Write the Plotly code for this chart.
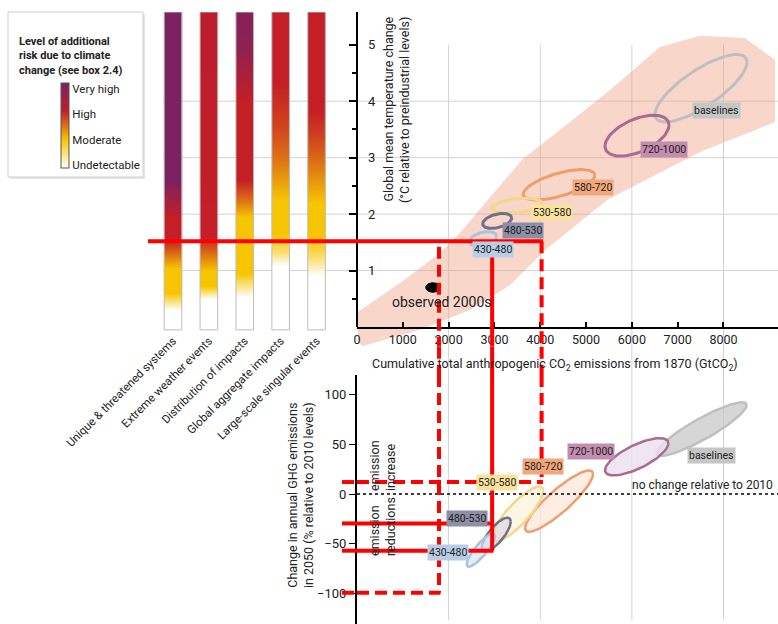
import numpy as np
import plotly.graph_objects as go

W, H = 778, 624
FONT = "Roboto, sans-serif"
TXT = "#222222"
RED = "#FF0000"

# ---------------- data ----------------
# Risk bars: temperature nodes (°C) and risk level (0 undetectable .. 3 very high)
risk_categories = ["Unique & threatened systems", "Extreme weather events",
                   "Distribution of impacts", "Global aggregate impacts",
                   "Large-scale singular events"]
risk_temps = [
    [-0.05, -0.03, 0.3, 0.6, 1.05, 1.3, 1.55, 1.95, 2.6, 5.56, 5.58],
    [-0.05, -0.03, 0.5, 0.72, 1.0, 1.3, 1.6, 2.0, 3.5, 5.56, 5.58],
    [-0.05, -0.03, 0.53, 0.95, 1.95, 2.25, 2.6, 4.0, 5.0, 5.56, 5.58],
    [-0.05, -0.03, 1.08, 1.35, 1.67, 2.25, 3.0, 3.5, 4.3, 5.56, 5.58],
    [-0.05, -0.03, 0.9, 1.25, 1.6, 2.2, 2.9, 3.4, 3.85, 5.56, 5.58],
]
risk_levels = [
    [0, 0, 0, 1.0, 1.0, 1.5, 2.0, 2.0, 3.0, 3.0, 3.0],
    [0, 0, 0, 1.0, 1.0, 1.5, 2.0, 2.0, 2.05, 2.1, 2.1],
    [0, 0, 0, 1.0, 1.0, 1.5, 2.0, 2.0, 2.75, 2.85, 2.85],
    [0, 0, 0, 0.6, 1.0, 1.0, 1.5, 1.75, 2.0, 2.0, 2.0],
    [0, 0, 0, 0.6, 1.0, 1.0, 1.5, 1.8, 2.0, 2.0, 2.0],
]
risk_tick_vals = [0.12, 1.0, 1.9, 2.78]
risk_tick_text = ["Undetectable", "Moderate", "High", "Very high"]

# Plume (cumulative CO2 GtCO2, warming °C)
plume_x = [22, 939, 1812, 2249, 2903, 3624, 4431, 5523, 6614, 7488, 8470, 9125,
           9125, 7488, 5458, 4104, 3340, 2467, 1375, 109, 22]
plume_y = [0.27, 0.78, 1.31, 1.67, 2.30, 2.98, 3.49, 4.20, 4.96, 5.16, 5.12, 4.73,
           3.63, 3.10, 2.25, 1.36, 0.74, 0.30, -0.05, -0.34, -0.23]

# Scenario categories
scen_names = ["baselines", "720-1000", "580-720", "530-580", "480-530", "430-480"]
scen_line = ["#BFBFBF", "#A96B92", "#EE9E6C", "#F5D78A", "#6F6F88", "#A9C2DF"]
scen_label_bg = ["#C6C6C6", "#C38DB0", "#F2A77A", "#FBE29B", "#8E8EA6", "#B9CDE6"]
scen_fill = ["rgba(200,200,200,0.75)", "rgba(236,224,238,0.8)", "rgba(252,230,214,0.7)",
             "rgba(254,242,218,0.7)", "rgba(214,214,224,0.6)", "rgba(218,228,242,0.7)"]

# Top panel ellipses: centre CO2, centre warming, half-width CO2, half-height warming, tilt
top_cx = [7510, 6112, 4410, 3487, 3060, 2751]
top_cy = [4.23, 3.39, 2.52, 2.15, 1.88, 1.56]
top_rx = [1004, 699, 782, 546, 317, 299]
top_ry = [0.38, 0.31, 0.21, 0.125, 0.122, 0.12]
top_slope = [0.00046, 0.000266, 0.000214, 0.00008, 0.00016, 0.00016]
top_lab_x = [7837, 6691, 5152, 4257, 3631, 2976]
top_lab_y = [3.83, 3.14, 2.47, 2.02, 1.71, 1.37]

# Bottom panel ellipses: centre CO2, centre emission change %, half-width, half-height, tilt
bot_cx = [7525, 6106, 4410, 3504, 3039, 2703]
bot_cy = [65.5, 37.6, -7.1, -20.2, -41.0, -56.5]
bot_rx = [982, 692, 742, 564, 317, 309]
bot_ry = [12, 13, 14.6, 14.9, 11, 8.8]
bot_slope = [0.0246, 0.0195, 0.0367, 0.0416, 0.0416, 0.046]
bot_lab_x = [7735, 5108, 4050, 3056, 2401, 1976]
bot_lab_y = [39.3, 43.3, 28.2, 12.1, -24.2, -58.5]

observed = dict(x=1659, y=0.70, rx=160, ry=0.085, lab_x=1856, lab_y=0.44)

# Guide lines (1.5 °C reading)
guide_temp = 1.52
guide_v = [  # (CO2, start warming, end emission change, dash)
    (1790, 1.42, -99.5, "12px,6px"),
    (2950, 1.52, -57.1, "solid"),
    (4030, 1.52, 12.1, "12px,6px"),
]
guide_h = [  # (emission change, CO2 end, dash)
    (12.1, 4030, "12px,6px"),
    (-29.6, 2950, "solid"),
    (-57.1, 2950, "solid"),
    (-99.5, 1790, "12px,6px"),
]

x_ticks = [0, 1000, 2000, 3000, 4000, 5000, 6000, 7000, 8000]
x_grid = [2000, 4000, 6000, 8000]
temp_ticks = [1, 2, 3, 4, 5]
temp_minor = [0.5, 1.5, 2.5, 3.5, 4.5]
temp_grid = [1, 2, 3, 4]
emis_ticks = [-100, -50, 0, 50, 100]

# ---------------- geometry ----------------
XD0 = 357 / W
X_RANGE = [0, 9190]
Y_RANGE = [-0.35, 5.58]
Y_DOM = [1 - 346.8 / H, 1 - 12 / H]
Y3_RANGE = [-131, 120]
Y3_DOM = [0, 1 - 375 / H]

risk_scale = [[0, "#FFFFFF"], [1 / 3, "#F6C500"], [2 / 3, "#C41E26"], [1, "#7A2262"]]

t = np.linspace(0, 2 * np.pi, 91)


def ellipse(cx, cy, rx, ry, slope):
    ex = cx + rx * np.cos(t)
    ey = cy + ry * np.sin(t) + slope * rx * np.cos(t)
    return ex, ey


fig = go.Figure()

# plume
fig.add_trace(go.Scatter(x=plume_x, y=plume_y, fill="toself", mode="lines",
                         fillcolor="rgba(240,165,135,0.45)", line=dict(width=0),
                         xaxis="x", yaxis="y", hoverinfo="skip"))

# risk bars as smooth heatmaps
half = 0.245
for i, (tt, lv) in enumerate(zip(risk_temps, risk_levels)):
    fig.add_trace(go.Heatmap(
        x=[i - half, i, i + half], y=tt, z=[[v, v] for v in lv],
        zsmooth="best", colorscale=risk_scale, zmin=0, zmax=3,
        xaxis="x2", yaxis="y", hoverinfo="skip", showscale=(i == 0),
        colorbar=dict(x=61 / W, xanchor="left", y=1 - 125.5 / H, yanchor="middle",
                      len=85 / H, lenmode="fraction", thickness=8, thicknessmode="pixels",
                      outlinewidth=1, outlinecolor="#555555", tickvals=risk_tick_vals,
                      ticktext=risk_tick_text, ticks="", xpad=0, ypad=0,
                      tickfont=dict(size=11.5, color=TXT, family=FONT))))
fig.add_trace(go.Bar(x=list(range(len(risk_categories))), y=[Y_RANGE[1] + 0.05] * 5,
                     base=-0.05, width=2 * half, xaxis="x2", yaxis="y",
                     marker=dict(color="rgba(0,0,0,0)", line=dict(color="#BDBDBD", width=1)),
                     hoverinfo="skip"))

# top ellipses
for k in range(len(scen_names)):
    ex, ey = ellipse(top_cx[k], top_cy[k], top_rx[k], top_ry[k], top_slope[k])
    fig.add_trace(go.Scatter(x=ex, y=ey, mode="lines", line=dict(color=scen_line[k], width=3),
                             xaxis="x", yaxis="y", hoverinfo="skip"))
ex, ey = ellipse(observed["x"], observed["y"], observed["rx"], observed["ry"], 0)
fig.add_trace(go.Scatter(x=ex, y=ey, mode="lines", fill="toself", fillcolor="black",
                         line=dict(color="black", width=1), xaxis="x", yaxis="y", hoverinfo="skip"))

# bottom ellipses
for k in range(len(scen_names)):
    ex, ey = ellipse(bot_cx[k], bot_cy[k], bot_rx[k], bot_ry[k], bot_slope[k])
    fig.add_trace(go.Scatter(x=ex, y=ey, mode="lines", fill="toself", fillcolor=scen_fill[k],
                             line=dict(color=scen_line[k], width=2.5),
                             xaxis="x3", yaxis="y3", hoverinfo="skip"))

shapes = []
# legend box
shapes.append(dict(type="rect", xref="paper", yref="paper", x0=10 / W, x1=145 / W,
                   y0=1 - 179 / H, y1=1 - 14 / H, fillcolor="#E4E4E4", line=dict(width=0),
                   layer="below"))
shapes.append(dict(type="rect", xref="paper", yref="paper", x0=8 / W, x1=143 / W,
                   y0=1 - 177 / H, y1=1 - 12 / H, fillcolor="white",
                   line=dict(color="#CFCFCF", width=1), layer="below"))
# grid
for g in temp_grid:
    shapes.append(dict(type="line", xref="paper", yref="y", x0=163 / W, x1=1, y0=g, y1=g,
                       line=dict(color="#D2D2D2", width=1), layer="below"))
for g in x_grid:
    shapes.append(dict(type="line", xref="x", yref="y", x0=g, x1=g, y0=5, y1=Y_RANGE[0],
                       line=dict(color="#D2D2D2", width=1), layer="below"))
    shapes.append(dict(type="line", xref="x", yref="paper", x0=g, x1=g, y0=Y_DOM[0],
                       y1=1 - 620 / H, line=dict(color="#D2D2D2", width=1), layer="below"))
# top y-axis line
shapes.append(dict(type="line", xref="x domain", yref="y", x0=0, x1=0, y0=0, y1=Y_RANGE[1],
                   line=dict(color="black", width=2)))
# no change line
shapes.append(dict(type="line", xref="x3 domain", yref="y3", x0=0, x1=1, y0=0, y1=0,
                   line=dict(color="black", width=1.5, dash="dot")))


def red(x0, x1, y0, y1, xref, yref, dash):
    shapes.append(dict(type="line", xref=xref, yref=yref, x0=x0, x1=x1, y0=y0, y1=y1,
                       line=dict(color=RED, width=4, dash=dash), layer="above"))


red(148 / W, XD0, guide_temp, guide_temp, "paper", "y", "solid")
red(0, 4060, guide_temp, guide_temp, "x", "y", "solid")
for xv, t0, e1, dash in guide_v:
    red(xv, xv, t0, Y_RANGE[0], "x", "y", dash)
    red(xv, xv, Y_DOM[0], Y3_DOM[1], "x", "paper", dash)
    red(xv, xv, Y3_RANGE[1], e1, "x3", "y3", dash)
for ev, xe, dash in guide_h:
    red(342 / W, XD0, ev, ev, "paper", "y3", dash)
    red(0, xe + 30, ev, ev, "x3", "y3", dash)

ann = []


def txt(**kw):
    kw.setdefault("xanchor", "center")
    kw.setdefault("yanchor", "middle")
    kw.setdefault("showarrow", False)
    ann.append(kw)


for k in range(len(scen_names)):
    txt(x=top_lab_x[k], y=top_lab_y[k], xref="x", yref="y", text=scen_names[k],
        bgcolor=scen_label_bg[k], borderpad=1, font=dict(size=10.5, color=TXT, family=FONT))
    txt(x=bot_lab_x[k], y=bot_lab_y[k], xref="x3", yref="y3", text=scen_names[k],
        bgcolor=scen_label_bg[k], borderpad=1, font=dict(size=10.5, color=TXT, family=FONT))
txt(x=observed["lab_x"], y=observed["lab_y"], xref="x", yref="y", text="observed 2000s",
    font=dict(size=14, color=TXT, family=FONT))
txt(x=555 / W, y=1 - 364 / H, xref="paper", yref="paper",
    text="Cumulative total anthropogenic CO<sub>2</sub> emissions from 1870 (GtCO<sub>2</sub>)",
    font=dict(size=12.5, color=TXT, family=FONT))
txt(x=396 / W, y=1 - 110 / H, xref="paper", yref="paper", textangle=-90, align="right",
    text="Global mean temperature change<br>(°C relative to preindustrial levels)",
    font=dict(size=12.5, color=TXT, family=FONT))
txt(x=300 / W, y=1 - 495 / H, xref="paper", yref="paper", textangle=-90, align="center",
    text="Change in annual GHG emissions<br>in 2050 (% relative to 2010 levels)",
    font=dict(size=12.5, color=TXT, family=FONT))
txt(x=382 / W, y=1 - 466 / H, xref="paper", yref="paper", textangle=-90, align="left",
    text="emission<br>increase", font=dict(size=12.5, color=TXT, family=FONT))
txt(x=382 / W, y=1 - 527 / H, xref="paper", yref="paper", textangle=-90, align="left",
    text="emission<br>reductions", font=dict(size=12.5, color=TXT, family=FONT))
txt(x=775 / W, y=0, xref="paper", yref="y3", xanchor="right", yanchor="bottom",
    text="no change relative to 2010", font=dict(size=12, color=TXT, family=FONT))
txt(x=17 / W, y=1 - 33 / H, xref="paper", yref="paper", xanchor="left", yanchor="top",
    align="left", text="<b>Level of additional<br>risk due to climate<br>change (see box 2.4)</b>",
    font=dict(size=11, color=TXT, family=FONT))

fig.update_layout(
    template="none", width=W, height=H,
    margin=dict(l=0, r=0, t=0, b=0, autoexpand=False),
    paper_bgcolor="white", plot_bgcolor="rgba(0,0,0,0)", showlegend=False,
    font=dict(family=FONT, color=TXT), shapes=shapes, annotations=ann,
    xaxis=dict(domain=[XD0, 1], range=X_RANGE, anchor="free", position=1 - 327.5 / H,
               showline=True, linecolor="black", linewidth=2, ticks="inside", ticklen=5,
               tickwidth=1.5, tickcolor="black", tickvals=x_ticks, showgrid=False,
               zeroline=False, automargin=False,
               tickfont=dict(size=12.5, color=TXT, family=FONT)),
    yaxis=dict(domain=Y_DOM, range=Y_RANGE, anchor="x", showline=False, ticks="outside",
               ticklen=7, tickwidth=1.5, tickcolor="black", tickvals=temp_ticks,
               ticklabelstandoff=-29, showgrid=False, zeroline=False, automargin=False,
               minor=dict(ticks="outside", ticklen=4, tickcolor="black", tickvals=temp_minor),
               tickfont=dict(size=13, color=TXT, family=FONT)),
    xaxis2=dict(domain=[155 / W, 334.5 / W], range=[-0.5, 4.5], anchor="free",
                position=1 - 331 / H, tickvals=list(range(5)), ticktext=risk_categories,
                tickangle=-45, ticks="", showline=False, showgrid=False, zeroline=False,
                automargin=False, tickfont=dict(size=11.5, color=TXT, family=FONT)),
    xaxis3=dict(domain=[XD0, 1], range=X_RANGE, anchor="y3", showticklabels=False, ticks="",
                showline=False, showgrid=False, zeroline=False, automargin=False),
    yaxis3=dict(domain=Y3_DOM, range=Y3_RANGE, anchor="x3", showline=True, linecolor="black",
                linewidth=2, ticks="outside", ticklen=6, tickcolor="black", tickvals=emis_ticks,
                showgrid=False, zeroline=False, automargin=False,
                tickfont=dict(size=13, color=TXT, family=FONT)),
)

fig.write_html("out.html", config={"displayModeBar": False},
               post_script="document.body.style.margin='0';document.body.style.padding='0';")
